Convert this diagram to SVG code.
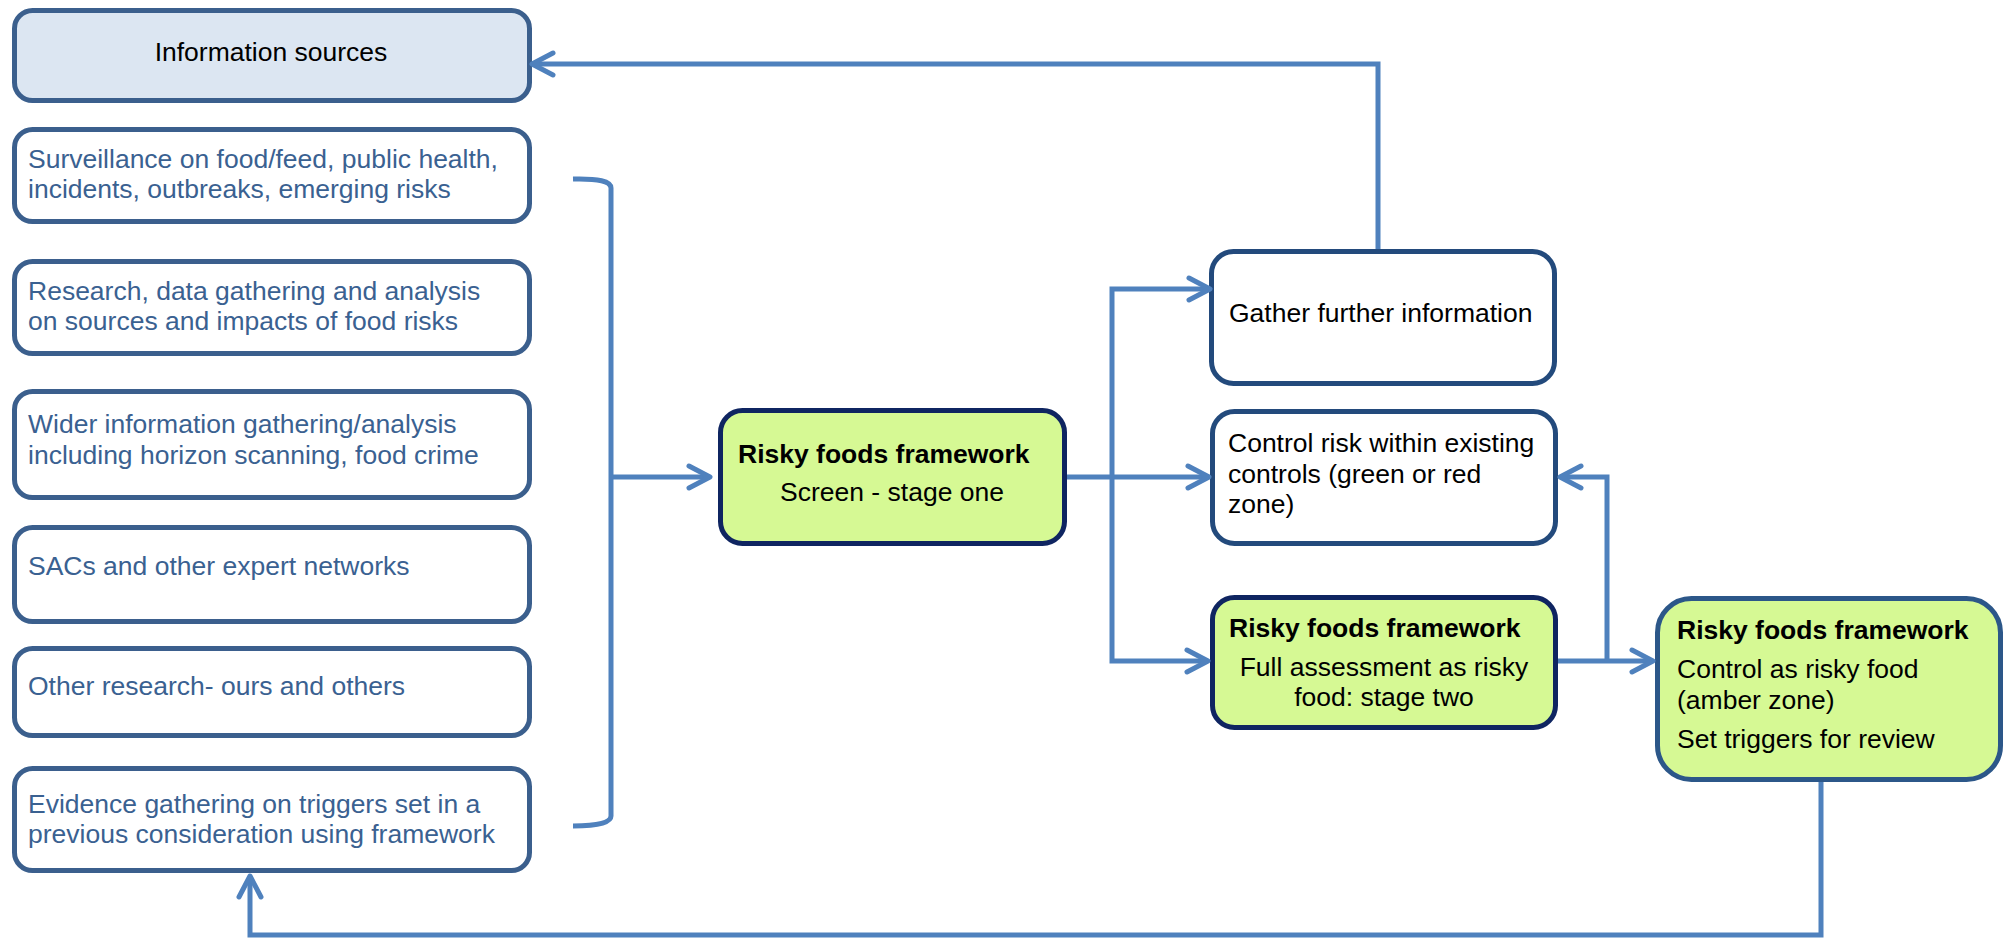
<svg xmlns="http://www.w3.org/2000/svg" width="2010" height="939" viewBox="0 0 2010 939">
<style>
text{font-family:"Liberation Sans",Arial,sans-serif;font-size:26.5px}
.src rect{fill:#ffffff;stroke:#3b5f8d;stroke-width:5}
.src text{fill:#3a6191}
.hdr rect{fill:#dce6f2;stroke:#3b5f8d;stroke-width:5}
.wb rect{fill:#ffffff;stroke:#234a7c;stroke-width:5}
.gb rect{fill:#d6f994;stroke:#0f2561;stroke-width:5}
.ab rect{fill:#d6f994;stroke:#2c5789;stroke-width:5}
.dk{fill:#000000}
.b{font-weight:bold}
.c{text-anchor:middle}
.con path{fill:none;stroke:#4f81bd;stroke-width:5}
</style>
<defs>
<marker id="arr" viewBox="-28 -16 32 32" refX="0" refY="0" markerWidth="32" markerHeight="32" markerUnits="userSpaceOnUse" orient="auto">
<path d="M-21,-11 L0,0 L-21,11" fill="none" stroke="#4f81bd" stroke-width="5" stroke-linecap="round" stroke-linejoin="round"/>
</marker>
</defs>

<g id="info-sources" class="hdr">
<rect x="14.5" y="10.5" width="515" height="90" rx="18"/>
<text class="dk c" x="271" y="61">Information sources</text>
</g>
<g id="surveillance" class="src">
<rect x="14.5" y="129.5" width="515" height="92" rx="18"/>
<text x="28" y="168">Surveillance on food/feed, public health,</text>
<text x="28" y="198">incidents, outbreaks, emerging risks</text>
</g>
<g id="research" class="src">
<rect x="14.5" y="261.5" width="515" height="92" rx="18"/>
<text x="28" y="300">Research, data gathering and analysis</text>
<text x="28" y="330">on sources and impacts of food risks</text>
</g>
<g id="wider" class="src">
<rect x="14.5" y="391.5" width="515" height="106" rx="18"/>
<text x="28" y="433">Wider information gathering/analysis</text>
<text x="28" y="464">including horizon scanning, food crime</text>
</g>
<g id="sacs" class="src">
<rect x="14.5" y="527.5" width="515" height="94" rx="18"/>
<text x="28" y="575">SACs and other expert networks</text>
</g>
<g id="other-research" class="src">
<rect x="14.5" y="648.5" width="515" height="87" rx="18"/>
<text x="28" y="695">Other research- ours and others</text>
</g>
<g id="evidence" class="src">
<rect x="14.5" y="768.5" width="515" height="102" rx="18"/>
<text x="28" y="813">Evidence gathering on triggers set in a</text>
<text x="28" y="843">previous consideration using framework</text>
</g>

<g id="screen" class="gb">
<rect x="720.5" y="410.5" width="344" height="133" rx="22"/>
<text class="dk b" x="738" y="463">Risky foods framework</text>
<text class="dk c" x="892" y="501">Screen - stage one</text>
</g>
<g id="gather" class="wb">
<rect x="1211.5" y="251.5" width="343" height="132" rx="22"/>
<text class="dk" x="1229" y="322">Gather further information</text>
</g>
<g id="control" class="wb">
<rect x="1212.5" y="411.5" width="343" height="132" rx="22"/>
<text class="dk" x="1228" y="452">Control risk within existing</text>
<text class="dk" x="1228" y="483">controls (green or red</text>
<text class="dk" x="1228" y="513">zone)</text>
</g>
<g id="stage-two" class="gb">
<rect x="1212.5" y="597.5" width="343" height="130" rx="22"/>
<text class="dk b" x="1229" y="637">Risky foods framework</text>
<text class="dk c" x="1384" y="676">Full assessment as risky</text>
<text class="dk c" x="1384" y="706">food: stage two</text>
</g>
<g id="amber" class="ab">
<rect x="1657.5" y="598.5" width="343" height="181" rx="34"/>
<text class="dk b" x="1677" y="639">Risky foods framework</text>
<text class="dk" x="1677" y="678">Control as risky food</text>
<text class="dk" x="1677" y="709">(amber zone)</text>
<text class="dk" x="1677" y="748">Set triggers for review</text>
</g>

<g id="connectors" class="con">
<path d="M1378,249 V64 H532" marker-end="url(#arr)"/>
<path d="M573,179 Q611,178 611,188 V816 Q611,826 573,826"/>
<path d="M611,477 H710" marker-end="url(#arr)"/>
<path d="M1067,477 H1209" marker-end="url(#arr)"/>
<path d="M1112,477 V289 H1210" marker-end="url(#arr)"/>
<path d="M1112,477 V661 H1208" marker-end="url(#arr)"/>
<path d="M1558,661 H1653" marker-end="url(#arr)"/>
<path d="M1607,661 V477 H1560" marker-end="url(#arr)"/>
<path d="M1821,782 V935 H250 V876" marker-end="url(#arr)"/>
</g>
</svg>
